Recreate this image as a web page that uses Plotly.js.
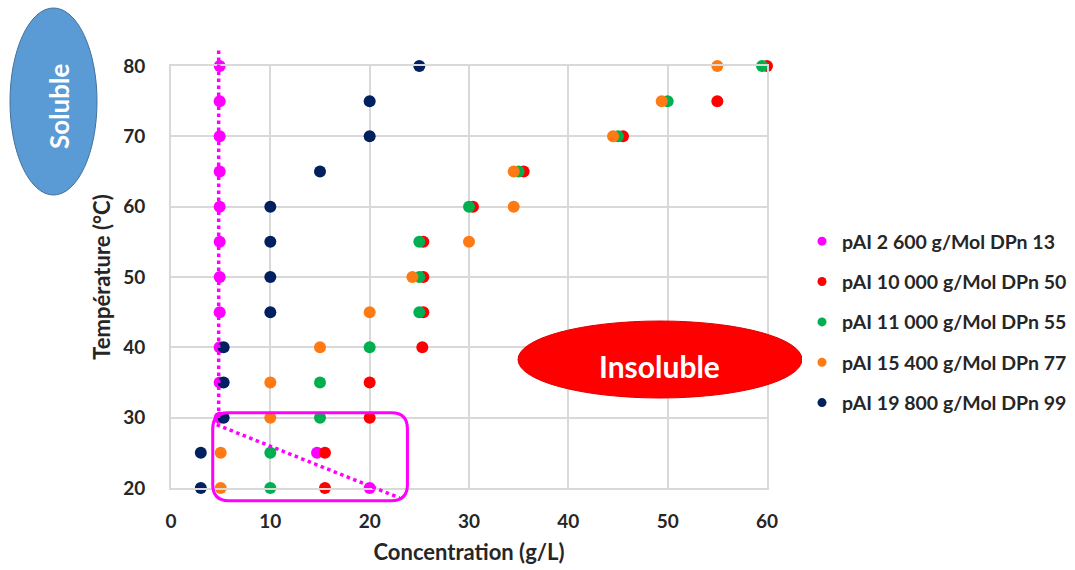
<!DOCTYPE html>
<html>
<head>
<meta charset="utf-8">
<script src="https://cdn.plot.ly/plotly-3.0.1.min.js"></script>
<style>html,body{margin:0;padding:0;background:#fff;}#chart{width:1075px;height:570px;}</style>
</head>
<body>
<div id="chart"></div>
<script>
// Temperatures (°C)
const temps = [20, 25, 30, 35, 40, 45, 50, 55, 60, 65, 70, 75, 80];

// Concentration (g/L) for each series, one value per temperature
const names = [
  "pAI 2 600 g/Mol DPn 13",
  "pAI 10 000 g/Mol DPn 50",
  "pAI 11 000 g/Mol DPn 55",
  "pAI 15 400 g/Mol DPn 77",
  "pAI 19 800 g/Mol DPn 99"
];
const conc2600  = [20, 14.7, 4.9, 4.9, 4.9, 4.9, 4.9, 4.9, 4.9, 4.9, 4.9, 4.9, 4.9];
const conc10000 = [15.5, 15.5, 20, 20, 25.3, 25.4, 25.4, 25.4, 30.4, 35.5, 45.5, 55, 60];
const conc11000 = [10, 10, 15, 15, 20, 25, 25, 25, 30, 35, 45, 50, 59.5];
const conc15400 = [5, 5, 10, 10, 15, 20, 24.3, 30, 34.5, 34.5, 44.5, 49.4, 55];
const conc19800 = [3, 3, 5.3, 5.3, 5.3, 10, 10, 10, 10, 15, 20, 20, 25];
const colors = ["#FF00FF", "#FF0000", "#00B050", "#FF7A12", "#002060"];

const seriesX = [conc2600, conc10000, conc11000, conc15400, conc19800];

// data traces (not in legend), drawn in an order that mimics the overlaps
const plotOrder = [0, 4, 1, 2, 3];
const data = plotOrder.map(i => ({
  type: "scatter", mode: "markers",
  x: seriesX[i], y: temps, name: names[i],
  showlegend: false,
  marker: {color: colors[i], size: 12},
  cliponaxis: false, hoverinfo: "x+y"
}));
// legend entries with smaller symbols
[0,1,2,3,4].forEach(i => data.push({
  type: "scatter", mode: "markers", x: [null], y: [null], name: names[i],
  legendgroup: "g" + i, marker: {color: colors[i], size: 9}, hoverinfo: "skip"
}));

// data -> paper helpers for annotation shapes (ranges 0-60, 20-80)
const XR = [0, 60], YR = [20, 80];
const px = x => (x - XR[0]) / (XR[1] - XR[0]);
const py = y => (y - YR[0]) / (YR[1] - YR[0]);

function roundRect(x0, y0, x1, y1, rx, ry) {
  const P = (x, y) => px(x).toFixed(4) + "," + py(y).toFixed(4);
  return "M" + P(x0 + rx, y1) + " L" + P(x1 - rx, y1) + " Q" + P(x1, y1) + " " + P(x1, y1 - ry) +
    " L" + P(x1, y0 + ry) + " Q" + P(x1, y0) + " " + P(x1 - rx, y0) +
    " L" + P(x0 + rx, y0) + " Q" + P(x0, y0) + " " + P(x0, y0 + ry) +
    " L" + P(x0, y1 - ry) + " Q" + P(x0, y1) + " " + P(x0 + rx, y1) + " Z";
}

const W = 1075, H = 570;
const L = 171, R = 767, T = 66, B = 488;
const ppx = p => (p - L) / (R - L);
const ppy = p => (B - p) / (B - T);
const FONT = "Lato, 'Open Sans', sans-serif";
const INK = "#262626";

const layout = {
  width: W, height: H,
  margin: {l: L, r: W - R, t: T, b: H - B, pad: 0, autoexpand: false},
  paper_bgcolor: "#fff", plot_bgcolor: "#fff",
  font: {family: FONT, color: INK},
  showlegend: true,
  legend: {
    xref: "container", yref: "container",
    x: 802 / W, y: 1 - 222 / H, xanchor: "left", yanchor: "top",
    traceorder: "grouped", tracegroupgap: 12,
    font: {size: 19.5, color: INK, family: FONT, weight: "bold"},
    itemwidth: 30
  },
  xaxis: {
    range: XR, dtick: 10, tick0: 0,
    showgrid: true, gridcolor: "#D9D9D9", gridwidth: 2,
    zeroline: false, showline: true, linecolor: "#D9D9D9", linewidth: 2, mirror: true,
    ticks: "", ticklabelstandoff: 15,
    tickfont: {size: 19, family: FONT, weight: "bold", color: INK},
    title: {text: "Concentration (g/L)", standoff: 14,
            font: {size: 22, family: FONT, weight: "bold", color: INK}}
  },
  yaxis: {
    range: YR, dtick: 10, tick0: 20,
    showgrid: true, gridcolor: "#D9D9D9", gridwidth: 2,
    zeroline: false, showline: true, linecolor: "#D9D9D9", linewidth: 2, mirror: true,
    ticks: "", ticklabelstandoff: 20,
    tickfont: {size: 19, family: FONT, weight: "bold", color: INK},
    title: {text: "Température (°C)", standoff: 6,
            font: {size: 22, family: FONT, weight: "bold", color: INK}}
  },
  shapes: [
    {type: "line", xref: "paper", yref: "paper", x0: px(4.8), y0: py(82.2), x1: px(4.8), y1: py(29.5),
     line: {color: "#FF00FF", width: 3.5, dash: "dot"}},
    {type: "line", xref: "paper", yref: "paper", x0: px(4.6), y0: py(29.0), x1: px(23.0), y1: py(18.6),
     line: {color: "#FF00FF", width: 3.5, dash: "dot"}},
    {type: "path", xref: "paper", yref: "paper", path: roundRect(4.2, 18.2, 23.8, 30.7, 1.6, 2.3),
     line: {color: "#FF00FF", width: 3}, fillcolor: "rgba(0,0,0,0)"},
    {type: "circle", xref: "paper", yref: "paper", x0: ppx(10), x1: ppx(97), y0: ppy(195), y1: ppy(8),
     fillcolor: "#5B9BD5", line: {color: "#41719C", width: 1}},
    {type: "circle", xref: "paper", yref: "paper", x0: ppx(518), x1: ppx(802), y0: ppy(398), y1: ppy(321),
     fillcolor: "#FF0000", line: {color: "#E00000", width: 1}}
  ],
  annotations: [
    {xref: "paper", yref: "paper", x: ppx(59), y: ppy(106), xanchor: "center", yanchor: "middle",
     text: "Soluble", showarrow: false, textangle: -90,
     font: {size: 26, color: "#ffffff", family: FONT, weight: "bold"}},
    {xref: "paper", yref: "paper", x: ppx(659), y: ppy(366), xanchor: "center", yanchor: "middle",
     text: "Insoluble", showarrow: false,
     font: {size: 30, color: "#ffffff", family: FONT, weight: "bold"}}
  ]
};

Plotly.newPlot("chart", data, layout, {staticPlot: true, displayModeBar: false});
</script>
</body>
</html>
